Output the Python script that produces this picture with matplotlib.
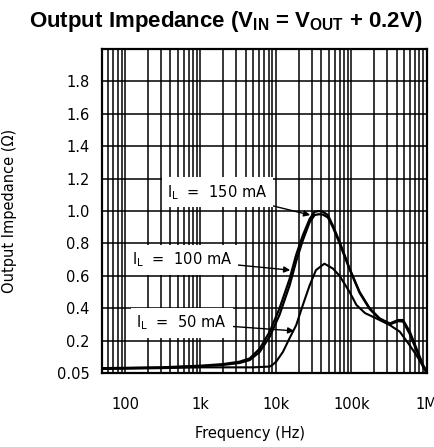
import numpy as np
import matplotlib
matplotlib.use("Agg")
import matplotlib.pyplot as plt
from matplotlib.ticker import FixedLocator, FixedFormatter, NullFormatter

plt.rcParams['mathtext.fontset'] = 'custom'
plt.rcParams['mathtext.rm'] = 'DejaVu Sans'
plt.rcParams['mathtext.bf'] = 'Liberation Sans:bold'

# values
freq_150 = [50, 300, 1000, 2000, 3300, 4500, 6100, 8300, 11200, 15200, 18600, 22800,
            28000, 32600, 37000, 42000, 49000, 57000, 70000, 95000, 129000, 175000,
            238000, 324000, 417000, 486000, 597000, 731000, 895000, 1000000]
z_150 = [0.03, 0.035, 0.045, 0.055, 0.07, 0.09, 0.15, 0.255, 0.40, 0.58, 0.73, 0.85,
         0.95, 0.995, 1.0, 0.995, 0.975, 0.91, 0.81, 0.645, 0.50, 0.40,
         0.337, 0.306, 0.327, 0.327, 0.255, 0.152, 0.05, 0.01]

freq_100 = freq_150
z_100 = [0.028, 0.033, 0.042, 0.05, 0.062, 0.08, 0.13, 0.225, 0.36, 0.54, 0.69, 0.82,
         0.93, 0.975, 0.98, 0.978, 0.96, 0.90, 0.80, 0.64, 0.495, 0.395,
         0.333, 0.30, 0.32, 0.318, 0.24, 0.14, 0.04, 0.0]

freq_50 = [50, 300, 1000, 2400, 5000, 8300, 9000, 10100, 12400, 15200, 18600, 22800,
           28000, 34000, 44000, 57000, 70000, 95000, 117000, 152000, 215000, 324000,
           440000, 597000, 731000, 950000, 1000000]
z_50 = [0.025, 0.03, 0.035, 0.035, 0.035, 0.04, 0.05, 0.07, 0.13, 0.215, 0.295, 0.42,
        0.54, 0.635, 0.675, 0.645, 0.60, 0.50, 0.42, 0.37, 0.337, 0.296,
        0.255, 0.17, 0.11, 0.02, 0.0]

x_ticks = [1e2, 1e3, 1e4, 1e5, 1e6]
x_labels = ['100', '1k', '10k', '100k', '1M']
y_ticks = [0.0, 0.2, 0.4, 0.6, 0.8, 1.0, 1.2, 1.4, 1.6, 1.8]
y_labels = ['0.05', '0.2', '0.4', '0.6', '0.8', '1.0', '1.2', '1.4', '1.6', '1.8']

fig = plt.figure(figsize=(4.34, 4.47), dpi=100)
ax = fig.add_axes([0.2357, 0.1655, 0.7475, 0.7249])

ax.plot(freq_150, z_150, color='black', lw=1.6, zorder=3)
ax.plot(freq_100, z_100, color='black', lw=1.6, zorder=3)
ax.plot(freq_50, z_50, color='black', lw=1.5, zorder=3)

ax.set_xscale('log')
ax.set_xlim(50, 1e6)
ax.set_ylim(0, 2.0)

minor = [m * 10 ** d for d in range(1, 6) for m in range(2, 10) if 50 < m * 10 ** d < 1e6]
ax.xaxis.set_major_locator(FixedLocator(x_ticks))
ax.xaxis.set_major_formatter(FixedFormatter(x_labels))
ax.xaxis.set_minor_locator(FixedLocator(minor))
ax.xaxis.set_minor_formatter(NullFormatter())
ax.set_yticks(y_ticks + [2.0])
ax.set_yticklabels(y_labels + [''])

ax.grid(which='both', axis='x', color='black', lw=1.1)
ax.grid(which='major', axis='y', color='black', lw=1.1)
ax.tick_params(which='both', length=0, labelsize=10.5)
ax.tick_params(axis='x', pad=17)
ax.tick_params(axis='y', pad=9)
for s in ax.spines.values():
    s.set_linewidth(1.6)

ax.set_xlabel('Frequency (Hz)', fontsize=10.5)
ax.xaxis.set_label_coords(0.455, -0.165)
ax.set_ylabel('Output Impedance (\u03a9)', fontsize=10.5)
ax.yaxis.set_label_coords(-0.262, 0.5)

box = dict(facecolor='white', edgecolor='none', pad=4)
arr = dict(arrowstyle='-|>', color='black', lw=1.0, mutation_scale=9, shrinkA=0, shrinkB=0)
ax.annotate('I$_\\mathregular{L}$  =  150 mA', xy=(28500, 0.975), xytext=(365, 1.116),
            fontsize=10.5, va='center', ha='left', bbox=box, arrowprops=arr, zorder=4)
ax.annotate('I$_\\mathregular{L}$  =  100 mA', xy=(15500, 0.635), xytext=(125, 0.70),
            fontsize=10.5, va='center', ha='left', bbox=box, arrowprops=arr, zorder=4)
ax.annotate('I$_\\mathregular{L}$  =  50 mA', xy=(17500, 0.26), xytext=(141, 0.31),
            fontsize=10.5, va='center', ha='left', bbox=box, arrowprops=arr, zorder=4)

fig.text(0.521, 0.951, 'Output Impedance ($\\mathbf{V_{IN}}$ = $\\mathbf{V_{OUT}}$ + 0.2V)',
         ha='center', va='center', fontsize=16, fontweight='bold', family='Liberation Sans')

fig.savefig('out.png', dpi=100)
